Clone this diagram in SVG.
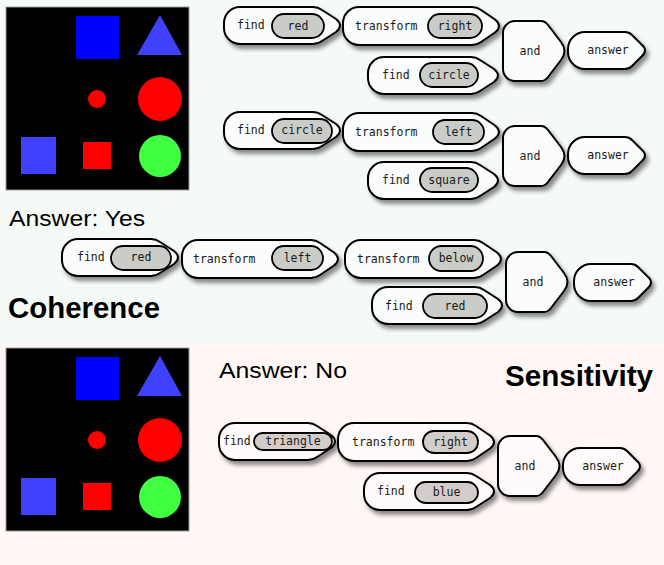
<svg xmlns="http://www.w3.org/2000/svg" width="664" height="565" viewBox="0 0 664 565">
<defs>
<filter id="sh" x="-20%" y="-20%" width="150%" height="160%">
<feDropShadow dx="3" dy="4" stdDeviation="2.2" flood-color="#000" flood-opacity="0.45"/>
</filter>
<path id="fS" d="M16 0H89Q94 0 98 3L112 12Q120 18.5 112 25L98 34Q94 37 89 37H16A16 16 0 0 1 0 21V16A16 16 0 0 1 16 0Z"/>
<path id="fL" d="M16 0H103Q108 0 112 3L126 12Q134 18.5 126 25L112 34Q108 37 103 37H16A16 16 0 0 1 0 21V16A16 16 0 0 1 16 0Z"/>
<path id="tr" d="M16 0H129Q134 0 138 3L152 12.5Q160 19 152 25.5L138 35Q134 38 129 38H16A16 16 0 0 1 0 22V16A16 16 0 0 1 16 0Z"/>
<path id="an" d="M12 0H38Q42 0 45 4L58 21Q65 30 58 39L45 56Q42 60 38 60H12A12 12 0 0 1 0 48V12A12 12 0 0 1 12 0Z"/>
<path id="aw" d="M17 0H57Q61 0 64 3L73 12Q81 18.5 73 25L64 34Q61 37 57 37H17A17 17 0 0 1 0 20V17A17 17 0 0 1 17 0Z"/>
<g id="scene">
<rect x="6" y="7" width="183" height="183" fill="#000" stroke="#999" stroke-width="1"/>
<rect x="76" y="16" width="43" height="43" fill="#0000ff"/>
<polygon points="160,15 182,55 137,55" fill="#4040ff"/>
<circle cx="97" cy="99" r="9" fill="#ff0000"/>
<circle cx="160" cy="99" r="22" fill="#ff0000"/>
<rect x="21" y="137" width="35" height="37" fill="#4040ff"/>
<rect x="83" y="142" width="28" height="27" fill="#ff0000"/>
<circle cx="160" cy="156" r="21" fill="#40ff40"/>
</g>
</defs>
<style>
.m{stroke:#000;stroke-width:2;stroke-linejoin:round;filter:url(#sh)}
.top .m{fill:#fbfdfc}
.bot .m{fill:#fffbfa}
.p{stroke:#000;stroke-width:1.8}
.top .p{fill:#c9ccc7}
.bot .p{fill:#d4ccc9}
.t{font-family:"DejaVu Sans Mono","Liberation Mono",monospace;font-size:11.5px;fill:#1a1a1a}
.c{text-anchor:middle}
.lbl{font-family:"Liberation Sans",Arial,sans-serif;font-size:22px;fill:#000}
.big{font-family:"Liberation Sans",Arial,sans-serif;font-size:29px;font-weight:bold;fill:#000}
</style>
<rect x="0" y="0" width="664" height="344" fill="#f5faf7"/>
<rect x="0" y="344" width="664" height="221" fill="#fff7f5"/>
<use href="#scene"/>
<use href="#scene" transform="translate(0,341)"/>
<text class="lbl" x="9" y="226" textLength="136" lengthAdjust="spacingAndGlyphs">Answer: Yes</text>
<text class="big" x="8" y="318" textLength="152" lengthAdjust="spacingAndGlyphs">Coherence</text>
<text class="lbl" x="219" y="378" textLength="128" lengthAdjust="spacingAndGlyphs">Answer: No</text>
<text class="big" x="505" y="386" textLength="148" lengthAdjust="spacingAndGlyphs">Sensitivity</text>
<g id="connectors"></g>
<g class="top">
<g id="r1-find-red" transform="translate(224,7)"><use href="#fS" class="m"/><text class="t" x="13" y="22">find</text><rect class="p" x="48" y="7" width="52" height="24" rx="12"/><text class="t c" x="74" y="23">red</text></g>
<g id="r1-transform-right" transform="translate(343,7)"><use href="#tr" class="m"/><text class="t" x="12" y="23">transform</text><rect class="p" x="85" y="7" width="54" height="24" rx="12"/><text class="t c" x="112" y="23">right</text></g>
<g id="r1-find-circle" transform="translate(368,57)"><use href="#fL" class="m"/><text class="t" x="14" y="22">find</text><rect class="p" x="52" y="6" width="58" height="24" rx="12"/><text class="t c" x="81" y="22">circle</text></g>
<g id="r1-and" transform="translate(503,21)"><use href="#an" class="m"/><text class="t c" x="27" y="34">and</text></g>
<g id="r1-answer" transform="translate(568,32)"><use href="#aw" class="m"/><text class="t c" x="40" y="22">answer</text></g>

<g id="r2-find-circle" transform="translate(224,112)"><use href="#fS" class="m"/><text class="t" x="13" y="22">find</text><rect class="p" x="48" y="7" width="60" height="24" rx="12"/><text class="t c" x="78" y="22">circle</text></g>
<g id="r2-transform-left" transform="translate(343,113)"><use href="#tr" class="m"/><text class="t" x="12" y="23">transform</text><rect class="p" x="90" y="7" width="51" height="24" rx="12"/><text class="t c" x="115.5" y="23">left</text></g>
<g id="r2-find-square" transform="translate(368,162)"><use href="#fL" class="m"/><text class="t" x="14" y="22">find</text><rect class="p" x="52" y="6" width="58" height="24" rx="12"/><text class="t c" x="81" y="22">square</text></g>
<g id="r2-and" transform="translate(503,126)"><use href="#an" class="m"/><text class="t c" x="27" y="34">and</text></g>
<g id="r2-answer" transform="translate(568,137)"><use href="#aw" class="m"/><text class="t c" x="40" y="22">answer</text></g>

<g id="r3-find-red" transform="translate(62,239)"><use href="#fS" class="m"/><text class="t" x="15" y="22">find</text><rect class="p" x="49" y="7" width="60" height="24" rx="12"/><text class="t c" x="79" y="22">red</text></g>
<g id="r3-transform-left" transform="translate(182,240)"><use href="#tr" class="m"/><text class="t" x="11" y="23">transform</text><rect class="p" x="90" y="6" width="51" height="24" rx="12"/><text class="t c" x="115.5" y="22">left</text></g>
<g id="r3-transform-below" transform="translate(345,240)"><use href="#tr" class="m"/><text class="t" x="12" y="23">transform</text><rect class="p" x="84" y="6" width="54" height="25" rx="12.5"/><text class="t c" x="111" y="22">below</text></g>
<g id="r3-find-red2" transform="translate(372,287)"><use href="#fL" class="m"/><text class="t" x="13" y="23">find</text><rect class="p" x="51" y="7" width="64" height="24" rx="12"/><text class="t c" x="83" y="23">red</text></g>
<g id="r3-and" transform="translate(506,252)"><use href="#an" class="m"/><text class="t c" x="27" y="34">and</text></g>
<g id="r3-answer" transform="translate(574,264)"><use href="#aw" class="m"/><text class="t c" x="40" y="22">answer</text></g>
</g>
<g class="bot">
<g id="r4-find-triangle" transform="translate(219,423)"><use href="#fS" class="m"/><text class="t" x="4" y="22">find</text><rect class="p" x="35" y="10" width="78" height="17" rx="8.5"/><text class="t c" x="74" y="22">triangle</text></g>
<g id="r4-transform-right" transform="translate(338,423)"><use href="#tr" class="m"/><text class="t" x="14" y="23">transform</text><rect class="p" x="85" y="8" width="55" height="22" rx="11"/><text class="t c" x="112.5" y="23">right</text></g>
<g id="r4-find-blue" transform="translate(364,473)"><use href="#fL" class="m"/><text class="t" x="13" y="22">find</text><rect class="p" x="51" y="9" width="63" height="21" rx="10.5"/><text class="t c" x="82.5" y="23">blue</text></g>
<g id="r4-and" transform="translate(498,436)"><use href="#an" class="m"/><text class="t c" x="27" y="34">and</text></g>
<g id="r4-answer" transform="translate(563,448)"><use href="#aw" class="m"/><text class="t c" x="40" y="22">answer</text></g>
</g>
</svg>
